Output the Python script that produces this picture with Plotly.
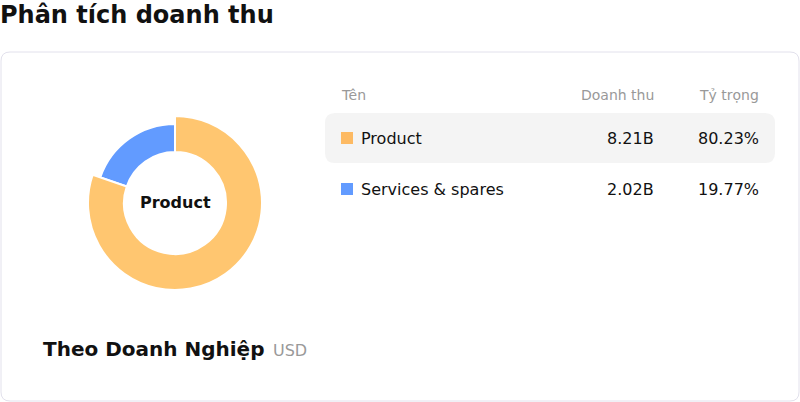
import plotly.graph_objects as go

# data
segments = ['Product', 'Services & spares']
revenue_b = [8.21, 2.02]          # billion USD
share_pct = [80.23, 19.77]
colors = ['#FFC670', '#629BFF']
legend_colors = ['#FDBA63', '#629BFF']
headers = ['Tên', 'Doanh thu', 'Tỷ trọng']
active = 'Product'

W, H = 800, 402
FONT = 'DejaVu Sans'


def px(x):
    return x / W


def py(y):
    return 1 - y / H


def rounded(x0, y0, x1, y1, r):
    return (f'M{x0+r},{y0} L{x1-r},{y0} Q{x1},{y0} {x1},{y0+r} '
            f'L{x1},{y1-r} Q{x1},{y1} {x1-r},{y1} L{x0+r},{y1} '
            f'Q{x0},{y1} {x0},{y1-r} L{x0},{y0+r} Q{x0},{y0} {x0+r},{y0} Z')


fig = go.Figure()

cx, cy = 175, 203
r_small, r_big, r_in = 79, 87, 51

# normal ring (non-active slices)
fig.add_trace(go.Pie(
    labels=segments, values=revenue_b, sort=False, direction='clockwise', rotation=0,
    hole=r_in / r_small, textinfo='none', hoverinfo='label+value', showlegend=False,
    marker=dict(colors=['rgba(0,0,0,0)' if s == active else c for s, c in zip(segments, colors)],
                line=dict(color='white', width=2)),
    domain=dict(x=[px(cx - r_small), px(cx + r_small)], y=[py(cy + r_small), py(cy - r_small)]),
))
# enlarged active slice
fig.add_trace(go.Pie(
    labels=segments, values=revenue_b, sort=False, direction='clockwise', rotation=0,
    hole=r_in / r_big, textinfo='none', hoverinfo='label+value', showlegend=False,
    marker=dict(colors=[c if s == active else 'rgba(0,0,0,0)' for s, c in zip(segments, colors)],
                line=dict(color=['white' if s == active else 'rgba(0,0,0,0)' for s in segments], width=2)),
    domain=dict(x=[px(cx - r_big), px(cx + r_big)], y=[py(cy + r_big), py(cy - r_big)]),
))

shapes = [
    dict(type='path', path=rounded(1, 52, 799, 401, 9), xref='x', yref='y',
         line=dict(color='#E2E1EC', width=1), fillcolor='white', layer='below'),
    dict(type='path', path=rounded(325, 113, 775, 163, 10), xref='x', yref='y',
         line=dict(width=0), fillcolor='#F4F4F4', layer='below'),
]

ann = []


def text(x, y, s, size, color, anchor='left', bold=False):
    # compensate annotation padding
    dx = -2 if anchor == 'left' else (2 if anchor == 'right' else 0)
    ann.append(dict(x=px(x + dx), y=py(y), xref='paper', yref='paper',
                    text=f'<b>{s}</b>' if bold else s,
                    showarrow=False, xanchor=anchor, yanchor='middle',
                    font=dict(family=FONT, size=size, color=color)))


text(0, 15, 'Phân tích doanh thu', 24, '#111', bold=True)
text(cx, 202, active, 16, '#111', anchor='center', bold=True)
text(43, 349, 'Theo Doanh Nghiệp', 20, '#111', bold=True)
text(273, 350, 'USD', 16, '#999')

text(341, 95, headers[0], 14, '#999')
text(654, 95, headers[1], 14, '#999', anchor='right')
text(759, 95, headers[2], 14, '#999', anchor='right')

row_y = [138, 189]
for name, rev, pct, col, y in zip(segments, revenue_b, share_pct, legend_colors, row_y):
    shapes.append(dict(type='rect', xref='x', yref='y', x0=341, x1=353, y0=y - 6, y1=y + 6,
                       fillcolor=col, line=dict(width=0)))
    text(361, y, name, 16, '#111')
    text(654, y, f'{rev:.2f}B', 16, '#111', anchor='right')
    text(759, y, f'{pct:.2f}%', 16, '#111', anchor='right')

fig.update_layout(
    width=W, height=H, margin=dict(l=0, r=0, t=0, b=0),
    paper_bgcolor='white', plot_bgcolor='rgba(0,0,0,0)',
    xaxis=dict(range=[0, W], visible=False, fixedrange=True),
    yaxis=dict(range=[H, 0], visible=False, fixedrange=True),
    shapes=shapes, annotations=ann, showlegend=False,
)

fig.write_html('out.html', config={'displayModeBar': False},
               post_script="document.body.style.margin='0';")
